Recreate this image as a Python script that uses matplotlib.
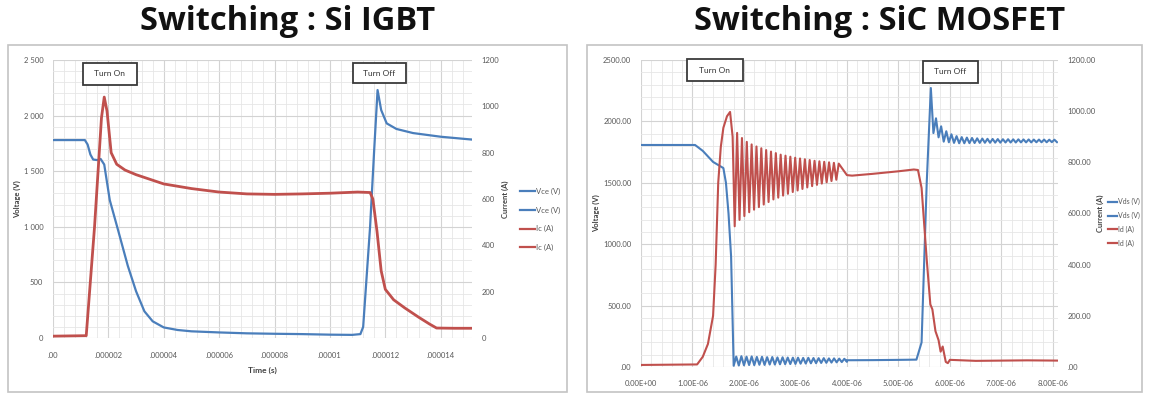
import numpy as np
import matplotlib
matplotlib.use("Agg")
import matplotlib.pyplot as plt
from matplotlib.lines import Line2D
from matplotlib.patches import Rectangle
from matplotlib.ticker import MultipleLocator, FixedLocator

plt.rcParams["font.family"] = ["Lato", "DejaVu Sans"]

BLUE = "#4a7ebb"
RED = "#c0504d"
TICK_COLOR = "#595959"

# ---------------- Si IGBT switching waveform (time in microseconds) ----------------
igbt_vce_t = [0, 1.15, 1.25, 1.35, 1.45, 1.6, 1.72, 1.85, 2.05, 2.35, 2.7, 3.0, 3.3,
              3.6, 4.0, 4.5, 5.0, 6.0, 7.0, 8.0, 9.0, 10.0, 10.8, 11.1, 11.2, 11.45,
              11.6, 11.72, 11.85, 12.05, 12.4, 13.0, 14.0, 15.1]
igbt_vce_v = [1780, 1780, 1740, 1650, 1605, 1600, 1610, 1560, 1240, 970, 650, 420, 240,
              150, 95, 72, 60, 50, 42, 38, 35, 30, 28, 35, 100, 1000,
              1700, 2230, 2050, 1930, 1880, 1843, 1810, 1785]

igbt_ic_t = [0, 1.2, 1.5, 1.75, 1.85, 1.95, 2.1, 2.3, 2.6, 3.0, 3.5, 4.0, 5.0, 6.0,
             7.0, 8.0, 9.0, 10.0, 11.0, 11.45, 11.55, 11.7, 11.85, 12.0, 12.3, 12.7,
             13.2, 13.6, 13.85, 14.5, 15.1]
igbt_ic_a = [8, 10, 480, 950, 1040, 980, 800, 750, 725, 705, 685, 665, 645, 630,
             622, 620, 622, 625, 630, 628, 600, 460, 290, 210, 165, 130,
             90, 60, 43, 42, 42]

igbt_xticks = [0, 2e-6, 4e-6, 6e-6, 8e-6, 10e-6, 12e-6, 14e-6]
igbt_xlabels = [".00", ".000002", ".000004", ".000006", ".000008", ".00001", ".000012", ".000014"]
igbt_vticks = [0, 500, 1000, 1500, 2000, 2500]
igbt_vlabels = ["0", "500", "1 000", "1 500", "2 000", "2 500"]
igbt_iticks = [0, 200, 400, 600, 800, 1000, 1200]
igbt_ilabels = ["0", "200", "400", "600", "800", "1000", "1200"]
igbt_legend = ["Vce (V)", "Vce (V)", "Ic (A)", "Ic (A)"]

# ---------------- SiC MOSFET switching waveform (time in microseconds) ----------------
sic_vds_on_t = [0, 1.05, 1.2, 1.4, 1.6, 1.65, 1.7, 1.75, 1.8]
sic_vds_on_v = [1808, 1808, 1760, 1670, 1620, 1500, 1250, 900, 10]
# drain voltage ringing after turn-on (alternating max / min, 0.05 us apart from 1.85 us)
sic_vds_ring_on = [85, 12, 88, 14, 84, 16, 86, 15, 82, 18, 83, 17, 80, 20, 81, 20, 78, 22,
                   79, 23, 77, 24, 76, 25, 76, 27, 74, 28, 75, 30, 73, 31, 72, 33, 72, 34,
                   70, 36, 70, 38, 68, 40, 67, 42]
sic_vds_mid_t = [4.0, 4.5, 5.0, 5.35, 5.45, 5.55, 5.63]
sic_vds_mid_v = [55, 56, 58, 60, 200, 1500, 2272]
# drain voltage ringing after turn-off (alternating min / max, 0.05 us apart from 5.68 us)
sic_vds_ring_off = [1905, 2025, 1870, 1960, 1835, 1920, 1830, 1895, 1825, 1880, 1822, 1872,
                    1822, 1868, 1823, 1865, 1824, 1862, 1825, 1860, 1826, 1858, 1826, 1857,
                    1827, 1856, 1827, 1855, 1828, 1855, 1828, 1854, 1828, 1854, 1829, 1853,
                    1829, 1853, 1829, 1852, 1830, 1852, 1830, 1852, 1830, 1851, 1831, 1851,
                    1831]

sic_id_on_t = [0, 1.09, 1.2, 1.3, 1.4, 1.45, 1.5, 1.55, 1.6, 1.67, 1.73, 1.78]
sic_id_on_a = [8, 10, 40, 90, 200, 400, 720, 860, 935, 980, 997, 900]
# drain current ringing after turn-on (alternating min / max, 0.047 us apart from 1.82 us)
sic_id_ring = [550, 915, 575, 895, 590, 880, 605, 870, 615, 862, 625, 855, 635, 848, 645,
               842, 655, 836, 662, 830, 670, 826, 677, 822, 684, 818, 690, 815, 696, 812,
               702, 809, 707, 806, 712, 804, 717, 802, 722, 800, 727, 798, 732, 795]
sic_id_off_t = [4.0, 4.1, 4.5, 5.0, 5.3, 5.38, 5.45, 5.5, 5.55, 5.62, 5.66, 5.72, 5.78,
                5.82, 5.86, 5.92, 5.96, 6.0, 6.5, 7.0, 7.5, 8.1]
sic_id_off_a = [750, 748, 755, 765, 772, 770, 700, 560, 420, 245, 225, 140, 105,
                60, 80, 20, 15, 28, 24, 25, 26, 25]

sic_xticks = [0, 1e-6, 2e-6, 3e-6, 4e-6, 5e-6, 6e-6, 7e-6, 8e-6]
sic_xlabels = ["0.00E+00", "1.00E-06", "2.00E-06", "3.00E-06", "4.00E-06",
               "5.00E-06", "6.00E-06", "7.00E-06", "8.00E-06"]
sic_vticks = [0, 500, 1000, 1500, 2000, 2500]
sic_vlabels = [".00", "500.00", "1000.00", "1500.00", "2000.00", "2500.00"]
sic_iticks = [0, 200, 400, 600, 800, 1000, 1200]
sic_ilabels = [".00", "200.00", "400.00", "600.00", "800.00", "1000.00", "1200.00"]
sic_legend = ["Vds (V)", "Vds (V)", "Id (A)", "Id (A)"]

US = 1e-6


def ring_times(start, step, values):
    return [start + k * step for k in range(len(values))]


sic_vds_t = (sic_vds_on_t + ring_times(1.85, 0.05, sic_vds_ring_on) + sic_vds_mid_t
             + ring_times(5.68, 0.05, sic_vds_ring_off))
sic_vds_v = sic_vds_on_v + sic_vds_ring_on + sic_vds_mid_v + sic_vds_ring_off
sic_id_t = sic_id_on_t + ring_times(1.82, 0.047, sic_id_ring) + sic_id_off_t
sic_id_a = sic_id_on_a + sic_id_ring + sic_id_off_a

W, H = 1149, 394
fig = plt.figure(figsize=(W / 100, H / 100), dpi=100)


def fx(px):
    return px / W


def fy(py):
    return 1 - py / H


def style(ax, ax2, xlim, xmaj, xticks, xlabels, vticks, vlabels, iticks, ilabels, xpad):
    ax.set_xlim(*xlim)
    ax.set_ylim(0, 2500)
    ax2.set_ylim(0, 1200)
    ax.xaxis.set_major_locator(FixedLocator(xticks))
    ax.set_xticklabels(xlabels)
    ax.xaxis.set_minor_locator(MultipleLocator(xmaj / 5))
    ax.yaxis.set_major_locator(FixedLocator(vticks))
    ax.set_yticklabels(vlabels)
    ax.yaxis.set_minor_locator(MultipleLocator(100))
    ax2.yaxis.set_major_locator(FixedLocator(iticks))
    ax2.set_yticklabels(ilabels)
    ax.grid(which="major", color="#d3d3d3", lw=0.8)
    ax.grid(which="minor", color="#e6e6e6", lw=0.6)
    ax.set_axisbelow(True)
    for a in (ax, ax2):
        for s in a.spines.values():
            s.set_visible(False)
        a.tick_params(which="both", length=0, labelsize=5.5, colors=TICK_COLOR)
    ax.tick_params(axis="x", pad=xpad)
    ax.tick_params(axis="y", pad=7)
    ax2.tick_params(axis="y", pad=7)


def callout(ax, xc, yc, w, h, label):
    ax.add_patch(Rectangle((xc - w / 2, yc - h / 2), w, h, transform=ax.transAxes,
                           facecolor="white", edgecolor="#3a3a3a", lw=1.3, zorder=10,
                           clip_on=False))
    ax.text(xc, yc, label, transform=ax.transAxes, ha="center", va="center",
            fontsize=6, color="#333333", zorder=11)


# panel frames
for x0, x1 in ((8, 567), (587, 1142)):
    fig.patches.append(Rectangle((fx(x0), fy(392)), fx(x1 - x0), (392 - 45) / H,
                                 transform=fig.transFigure, fill=False,
                                 edgecolor="#c4c4c4", lw=1.2))

# titles
title_kw = dict(ha="center", va="center", fontsize=23.5, fontweight="bold",
                color="#111111", family=["Open Sans", "DejaVu Sans"])
fig.text(fx(288), fy(22), "Switching : Si IGBT", **title_kw)
fig.text(fx(880), fy(22), "Switching : SiC MOSFET", **title_kw)

label_kw = dict(fontsize=5.5, fontweight="bold", color="#404040")

# ---- Si IGBT panel ----
ax1 = fig.add_axes([fx(53), fy(338), fx(472 - 53), (338 - 60) / H])
ax1b = ax1.twinx()
ax1.plot(np.array(igbt_vce_t) * US, igbt_vce_v, color=BLUE, lw=1.6)
ax1b.plot(np.array(igbt_ic_t) * US, igbt_ic_a, color=RED, lw=2.0)
style(ax1, ax1b, (0, 15.13 * US), 2 * US, igbt_xticks, igbt_xlabels,
      igbt_vticks, igbt_vlabels, igbt_iticks, igbt_ilabels, xpad=10)
ax1.set_xlabel("Time (s)", fontsize=6, fontweight="bold", color="#404040", labelpad=6)
ax1.set_ylabel("Voltage (V)", labelpad=2, **label_kw)
ax1b.set_ylabel("Current (A)", labelpad=2, **label_kw)
callout(ax1, 0.136, 0.95, 0.129, 0.079, "Turn On")
callout(ax1, 0.779, 0.953, 0.126, 0.072, "Turn Off")

# ---- SiC MOSFET panel ----
ax2 = fig.add_axes([fx(641), fy(367), fx(1058 - 641), (367 - 60) / H])
ax2b = ax2.twinx()
ax2.plot(np.array(sic_vds_t) * US, sic_vds_v, color=BLUE, lw=1.5)
ax2b.plot(np.array(sic_id_t) * US, sic_id_a, color=RED, lw=1.5)
style(ax2, ax2b, (0, 8.1 * US), 1 * US, sic_xticks, sic_xlabels,
      sic_vticks, sic_vlabels, sic_iticks, sic_ilabels, xpad=9)
ax2.set_ylabel("Voltage (V)", labelpad=2, **label_kw)
ax2b.set_ylabel("Current (A)", labelpad=1, **label_kw)
callout(ax2, 0.177, 0.967, 0.134, 0.072, "Turn On")
callout(ax2, 0.742, 0.961, 0.132, 0.072, "Turn Off")

# legends
def legend(labels, x, y, spacing, hlen, fsize):
    handles = [Line2D([], [], color=c, lw=1.6) for c in (BLUE, BLUE, RED, RED)]
    fig.legend(handles, labels, loc="center left", bbox_to_anchor=(x, y),
               frameon=False, fontsize=fsize, handlelength=hlen, handletextpad=0.15,
               labelspacing=spacing, borderpad=0, borderaxespad=0, labelcolor=TICK_COLOR)


legend(igbt_legend, fx(520), fy(219.5), 1.5, 2.0, 5.5)
legend(sic_legend, fx(1108), fy(222.5), 0.95, 1.3, 5.0)

fig.savefig("out.png", dpi=100)
